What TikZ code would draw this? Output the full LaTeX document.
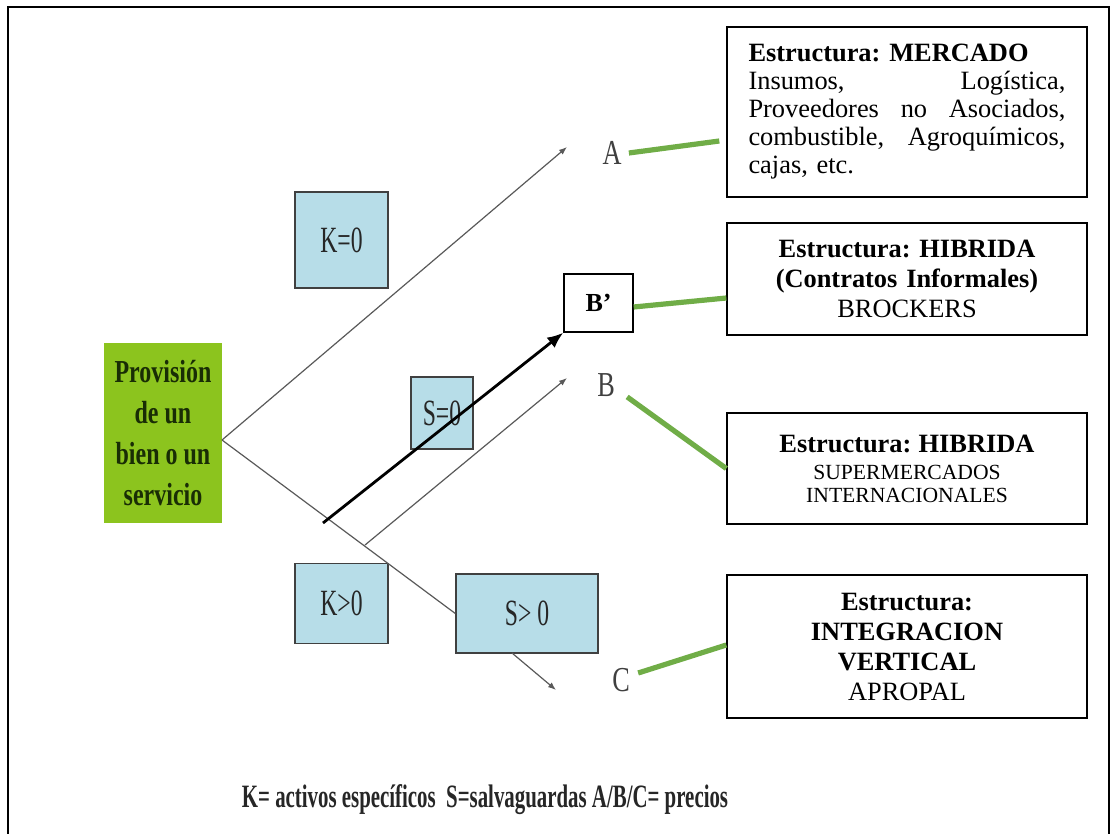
\documentclass[tikz,border=0pt]{standalone}
\usepackage{fontspec}
\setmainfont{Liberation Serif}
\newfontfamily\estrecha[FakeStretch=0.75]{Liberation Serif}
\newfontfamily\angosta[FakeStretch=0.64]{Liberation Serif}
\usetikzlibrary{arrows.meta}
\usetikzlibrary{calc}
\definecolor{verdeprov}{RGB}{140,196,30}
\definecolor{textoprov}{RGB}{25,45,5}
\definecolor{celeste}{RGB}{183,221,232}
\definecolor{verdelinea}{RGB}{112,173,71}
\tikzset{
  caja/.style={draw=black, line width=0.7pt, fill=white, inner xsep=5pt, inner ysep=0pt,
    text width=170pt, align=center},
  cajaK/.style={draw=black!75, line width=0.7pt, fill=celeste, inner sep=0pt, text=black!85,
    font=\angosta\fontsize{18.5}{20}\selectfont},
  letra/.style={text=black!75, inner sep=0pt, font=\estrecha\fontsize{17.5}{19}\selectfont},
  rama/.style={draw=black!65, line width=0.6pt},
  punta/.style={-{Latex[length=4pt,width=3pt]}},
  enlace/.style={draw=verdelinea, line width=2.6pt},
}

\begin{document}
\frenchspacing
\begin{tikzpicture}[x=0.5pt,y=-0.5pt]
        \useasboundingbox (0,0) rectangle (1114,834);
        % marco
        \draw[line width=0.8pt] (8,834) -- (8,7) -- (1109,7) -- (1109,834);

        % nodo de partida
        \node[fill=verdeprov, minimum width=59pt, minimum height=90pt, inner sep=0pt, align=center,
          text=textoprov, font=\estrecha\bfseries\fontsize{16}{20.5}\selectfont]
          (prov) at (163,433) {Provisión\\de un\\bien o un\\servicio};

        % activos y salvaguardas
        \node[cajaK, minimum width=46.5pt, minimum height=48pt] (k0) at (341.5,240) {K=0};
        \node[cajaK, minimum width=31pt, minimum height=36pt] (s0) at (442,413) {S=0};
        \node[cajaK, minimum width=46.5pt, minimum height=40pt] (kmas) at (341.5,603.5) {K>0};
        \node[cajaK, minimum width=71pt, minimum height=39.5pt] (smas) at (527,613.5) {S> 0};

        % precios
        \node[letra] (pA) at (612,153) {A};
        \node[letra] (pB) at (606,385) {B};
        \node[letra] (pC) at (621,680) {C};

        % ramas del arbol
        \coordinate (horq) at (222,440);
        \coordinate (finA) at (567,147);
        \coordinate (ramB) at (365,545);
        \coordinate (finB) at (567,378);
        \coordinate (salC) at (512,653);
        \coordinate (finC) at (556,690);
        \coordinate (iniBp) at (323,523);
        \draw[rama,punta] (horq) -- (finA);
        \draw[rama] (horq) -- (smas.west);
        \draw[rama,punta] (ramB) -- (finB);
        \draw[rama,punta] (salC) -- (finC);

        \node[draw, line width=0.7pt, fill=white, minimum width=34.5pt, minimum height=29pt, inner sep=0pt,
          font=\bfseries\fontsize{13}{15}\selectfont] (bprima) at (598.5,303) {B’};
        \draw[line width=1.4pt, -{Latex[length=8pt,width=6.5pt]}] (iniBp) -- (bprima.south west);

        % estructuras
        \node[caja, text width=158.5pt, inner xsep=10.75pt, align=left, minimum height=85pt,
          font=\fontsize{13.2}{14}\selectfont] (mercado) at (907,112)
          {\textbf{Estructura: MERCADO}\\
           Insumos,\hfill Logística,\\
           Proveedores\hfill no\hfill Asociados,\\
           combustible,\hfill Agroquímicos,\\
           cajas, etc.};
        \node[caja, minimum height=56pt, font=\fontsize{13.2}{15}\selectfont] (hibrida) at (907,279)
          {\textbf{Estructura: HIBRIDA}\\ \textbf{(Contratos Informales)}\\ BROCKERS};
        \node[caja, minimum height=55.5pt, font=\fontsize{10.8}{11.5}\selectfont] (hibsuper) at (907,468.5)
          {{\bfseries\fontsize{13.2}{14}\selectfont Estructura: HIBRIDA}\\[2pt] SUPERMERCADOS\\ INTERNACIONALES};
        \node[caja, minimum height=71.5pt, font=\fontsize{13.2}{15}\selectfont] (integ) at (907,646.5)
          {\textbf{Estructura:}\\ \textbf{INTEGRACION}\\ \textbf{VERTICAL}\\ APROPAL};

        % enlaces verdes
        \draw[enlace] ([xshift=3.5pt]pA.east) -- ($(mercado.west |- 0,141)+(-7,0)$);
        \draw[enlace] ([yshift=-2pt]bprima.east) -- (hibrida.west |- 0,298);
        \draw[enlace] ([xshift=6pt]pB.south east) -- (hibsuper.west);
        \draw[enlace] ([xshift=4pt,yshift=3.5pt]pC.east) -- (integ.west |- 0,645);

        \node[inner sep=0pt, text=black!85, font=\angosta\bfseries\fontsize{16.3}{18}\selectfont]
          (nota) at (485,800) {K= activos específicos\ \ S=salvaguardas A/B/C= precios};
    \end{tikzpicture}
\end{document}
